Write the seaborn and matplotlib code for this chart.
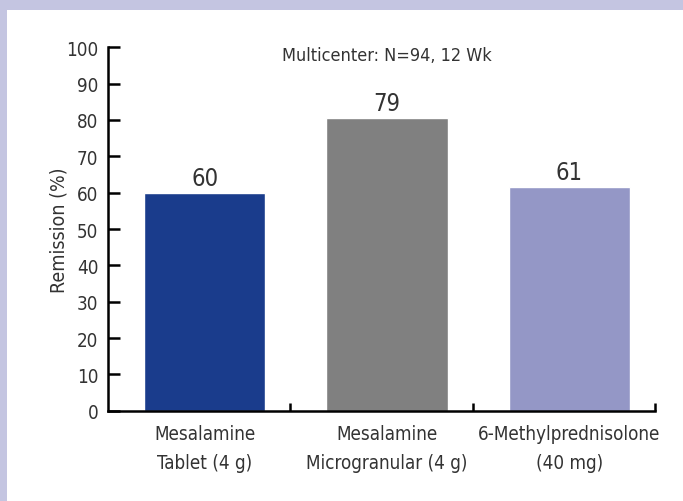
import matplotlib
matplotlib.use("Agg")
import matplotlib.pyplot as plt
from matplotlib import font_manager as fm
from matplotlib.patches import Rectangle
import seaborn as sns
import pandas as pd

# ---- data ----
categories = ["Mesalamine\nTablet (4 g)", "Mesalamine\nMicrogranular (4 g)", "6-Methylprednisolone\n(40 mg)"]
remission = [60, 80.5, 61.5]          # bar heights as drawn
value_labels = ["60", "79", "61"]     # printed values
bar_colors = ["#1a3c8c", "#808080", "#9497c6"]
y_ticks = [0, 10, 20, 30, 40, 50, 60, 70, 80, 90, 100]
title_text = "Multicenter: N=94, 12 Wk"
y_label = "Remission (%)"

df = pd.DataFrame({"category": categories, "remission": remission})

sns.set_theme(style="ticks")

# pick a condensed font if possible
names = {f.name for f in fm.fontManager.ttflist}
stretch = "normal"
if "Liberation Sans Narrow" in names:
    family = ["Liberation Sans Narrow", "DejaVu Sans"]
elif any(f.name == "DejaVu Sans" and "condensed" in str(f.stretch) for f in fm.fontManager.ttflist):
    family = ["DejaVu Sans"]
    stretch = "condensed"
elif "Roboto Condensed" in names:
    family = ["Roboto Condensed", "DejaVu Sans"]
else:
    family = ["Roboto", "DejaVu Sans"]
plt.rcParams["font.family"] = family
plt.rcParams["font.stretch"] = stretch

text_color = "#333333"

fig = plt.figure(figsize=(6.83, 5.02), dpi=100)
fig.patch.set_facecolor("white")
# lavender frame (top and left strips)
fig.patches.append(Rectangle((0, 1 - 11 / 502), 1, 11 / 502, transform=fig.transFigure,
                             facecolor="#c4c5e1", edgecolor="none", zorder=0))
fig.patches.append(Rectangle((0, 0), 7 / 683, 1, transform=fig.transFigure,
                             facecolor="#c4c5e1", edgecolor="none", zorder=0))

ax = fig.add_axes([108 / 683, (502 - 411.7) / 502, (655 - 108) / 683, (411.7 - 48.3) / 502])
ax.set_facecolor("white")

sns.barplot(data=df, x="category", y="remission", hue="category", palette=bar_colors,
            width=0.664, legend=False, ax=ax, saturation=1)

ax.set_xlim(-0.53, 2.47)
ax.set_ylim(0, 100)
ax.set_yticks(y_ticks)
ax.set_yticklabels([str(t) for t in y_ticks])

for s in ["top", "right"]:
    ax.spines[s].set_visible(False)
for s in ["left", "bottom"]:
    ax.spines[s].set_linewidth(1.8)
    ax.spines[s].set_color("black")

ax.tick_params(axis="y", direction="in", length=8.6, width=1.8, pad=7,
               labelsize=13.5, labelcolor=text_color, color="black")
ax.tick_params(axis="x", which="major", length=0, pad=9.5, labelsize=13.5, labelcolor=text_color)
ax.set_xticks([0.47, 1.47, 2.47], minor=True)
ax.tick_params(axis="x", which="minor", direction="in", length=5.8, width=1.8, color="black")
for lab in ax.get_xticklabels():
    lab.set_linespacing(1.7)

ax.set_xlabel("")
ax.set_ylabel(y_label, fontsize=14, color=text_color, labelpad=-2)

# value labels
for i, (h, t) in enumerate(zip(remission, value_labels)):
    ax.annotate(t, xy=(i, h), xytext=(0, 5.8), textcoords="offset points",
                ha="center", va="baseline", fontsize=17, color=text_color)

ax.text(1, 96.6, title_text, ha="center", va="baseline", fontsize=13, color=text_color)

fig.savefig("out.png", dpi=100)
